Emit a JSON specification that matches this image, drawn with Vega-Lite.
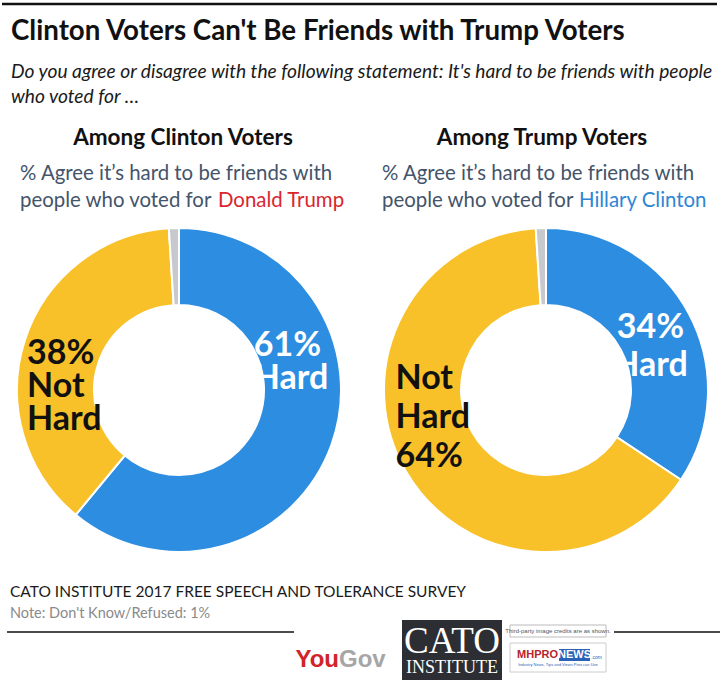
{
  "$schema": "https://vega.github.io/schema/vega-lite/v6.json",
  "padding": 0,
  "background": "white",
  "spacing": 4,
  "config": {
    "view": {"stroke": null},
    "axis": {"disable": true},
    "legend": {"disable": true},
    "text": {"font": "Lato"}
  },
  "vconcat": [
    {
      "width": 720,
      "height": 218,
      "data": {"values": [{}]},
      "layer": [
        {"mark": {"type": "rule", "stroke": "#111111", "strokeWidth": 2.5},
         "encoding": {"x": {"datum": 0, "type": "quantitative", "scale": {"domain": [0, 720]}}, "x2": {"datum": 715}, "y": {"datum": 4, "type": "quantitative", "scale": {"domain": [0, 218], "reverse": true}}}},
        {"mark": {"type": "text", "text": "Clinton Voters Can't Be Friends with Trump Voters", "align": "left", "baseline": "middle", "fontSize": 27.7, "fontWeight": "bold", "fill": "#111111"},
         "encoding": {"x": {"datum": 9, "type": "quantitative", "scale": {"domain": [0, 720]}}, "y": {"datum": 32, "type": "quantitative", "scale": {"domain": [0, 218], "reverse": true}}}},
        {"mark": {"type": "text", "text": "Do you agree or disagree with the following statement: It's hard to be friends with people", "align": "left", "baseline": "middle", "fontSize": 19.2, "fontStyle": "italic", "fill": "#1a1a1a"},
         "encoding": {"x": {"datum": 9, "type": "quantitative", "scale": {"domain": [0, 720]}}, "y": {"datum": 72, "type": "quantitative", "scale": {"domain": [0, 218], "reverse": true}}}},
        {"mark": {"type": "text", "text": "who voted for \u2026", "align": "left", "baseline": "middle", "fontSize": 19.2, "fontStyle": "italic", "fill": "#1a1a1a"},
         "encoding": {"x": {"datum": 9, "type": "quantitative", "scale": {"domain": [0, 720]}}, "y": {"datum": 97, "type": "quantitative", "scale": {"domain": [0, 218], "reverse": true}}}},
        {"mark": {"type": "text", "text": "Among Clinton Voters", "align": "center", "baseline": "middle", "fontSize": 22.5, "fontWeight": "bold", "fill": "#111111"},
         "encoding": {"x": {"datum": 181, "type": "quantitative", "scale": {"domain": [0, 720]}}, "y": {"datum": 138, "type": "quantitative", "scale": {"domain": [0, 218], "reverse": true}}}},
        {"mark": {"type": "text", "text": "% Agree it\u2019s hard to be friends with", "align": "left", "baseline": "middle", "fontSize": 20.4, "fill": "#44546a"},
         "encoding": {"x": {"datum": 18, "type": "quantitative", "scale": {"domain": [0, 720]}}, "y": {"datum": 174, "type": "quantitative", "scale": {"domain": [0, 218], "reverse": true}}}},
        {"mark": {"type": "text", "text": "people who voted for", "align": "left", "baseline": "middle", "fontSize": 20.4, "fill": "#44546a"},
         "encoding": {"x": {"datum": 18, "type": "quantitative", "scale": {"domain": [0, 720]}}, "y": {"datum": 201, "type": "quantitative", "scale": {"domain": [0, 218], "reverse": true}}}},
        {"mark": {"type": "text", "text": "Donald Trump", "align": "left", "baseline": "middle", "fontSize": 20.4, "fill": "#d9262e"},
         "encoding": {"x": {"datum": 216, "type": "quantitative", "scale": {"domain": [0, 720]}}, "y": {"datum": 201, "type": "quantitative", "scale": {"domain": [0, 218], "reverse": true}}}},
        {"mark": {"type": "text", "text": "Among Trump Voters", "align": "center", "baseline": "middle", "fontSize": 22.5, "fontWeight": "bold", "fill": "#111111"},
         "encoding": {"x": {"datum": 540, "type": "quantitative", "scale": {"domain": [0, 720]}}, "y": {"datum": 138, "type": "quantitative", "scale": {"domain": [0, 218], "reverse": true}}}},
        {"mark": {"type": "text", "text": "% Agree it\u2019s hard to be friends with", "align": "left", "baseline": "middle", "fontSize": 20.4, "fill": "#44546a"},
         "encoding": {"x": {"datum": 380, "type": "quantitative", "scale": {"domain": [0, 720]}}, "y": {"datum": 174, "type": "quantitative", "scale": {"domain": [0, 218], "reverse": true}}}},
        {"mark": {"type": "text", "text": "people who voted for", "align": "left", "baseline": "middle", "fontSize": 20.4, "fill": "#44546a"},
         "encoding": {"x": {"datum": 380, "type": "quantitative", "scale": {"domain": [0, 720]}}, "y": {"datum": 201, "type": "quantitative", "scale": {"domain": [0, 218], "reverse": true}}}},
        {"mark": {"type": "text", "text": "Hillary Clinton", "align": "left", "baseline": "middle", "fontSize": 20.4, "fill": "#2e86d6"},
         "encoding": {"x": {"datum": 577, "type": "quantitative", "scale": {"domain": [0, 720]}}, "y": {"datum": 201, "type": "quantitative", "scale": {"domain": [0, 218], "reverse": true}}}}
      ]
    },
    {
      "spacing": 14,
      "hconcat": [
        {
          "width": 354,
          "height": 336,
          "data": {"values": [
            {"voters": "Clinton", "cat": "Hard", "value": 61, "ord": 1, "label": "61%\nHard"},
            {"voters": "Clinton", "cat": "Not Hard", "value": 38, "ord": 2, "label": "38%\nNot\nHard"},
            {"voters": "Clinton", "cat": "Don't Know/Refused", "value": 1, "ord": 3, "label": ""}
          ]},
          "encoding": {
            "theta": {"field": "value", "type": "quantitative", "stack": true},
            "order": {"field": "ord", "type": "quantitative"}
          },
          "layer": [
            {"mark": {"type": "arc", "outerRadius": 162, "innerRadius": 85, "stroke": "white", "strokeWidth": 2},
             "encoding": {"color": {"field": "cat", "type": "nominal", "scale": {"domain": ["Hard", "Not Hard", "Don't Know/Refused"], "range": ["#2d8de0", "#f8c12a", "#c6cace"]}}}},
            {"mark": {"type": "text", "clip": true, "radius": 123, "align": "left", "baseline": "middle", "dx": -41, "dy": -86, "fontSize": 34, "fontWeight": "bold", "fill": "white", "lineBreak": "\n", "lineHeight": 33},
             "encoding": {"text": {"condition": {"test": "datum.cat === 'Hard'", "field": "label"}, "value": ""}}},
            {"mark": {"type": "text", "clip": true, "radius": 123, "align": "left", "baseline": "middle", "dx": -35, "dy": 2, "fontSize": 34, "fontWeight": "bold", "fill": "#111111", "lineBreak": "\n", "lineHeight": 33},
             "encoding": {"text": {"condition": {"test": "datum.cat === 'Not Hard'", "field": "label"}, "value": ""}}}
          ]
        },
        {
          "width": 352,
          "height": 336,
          "data": {"values": [
            {"voters": "Trump", "cat": "Hard", "value": 34, "ord": 1, "label": "34%\nHard"},
            {"voters": "Trump", "cat": "Not Hard", "value": 64, "ord": 2, "label": "Not\nHard\n64%"},
            {"voters": "Trump", "cat": "Don't Know/Refused", "value": 1, "ord": 3, "label": ""}
          ]},
          "encoding": {
            "theta": {"field": "value", "type": "quantitative", "stack": true},
            "order": {"field": "ord", "type": "quantitative"}
          },
          "layer": [
            {"mark": {"type": "arc", "outerRadius": 162, "innerRadius": 85, "stroke": "white", "strokeWidth": 2},
             "encoding": {"color": {"field": "cat", "type": "nominal", "scale": {"domain": ["Hard", "Not Hard", "Don't Know/Refused"], "range": ["#2d8de0", "#f8c12a", "#c6cace"]}}}},
            {"mark": {"type": "text", "clip": true, "radius": 123, "align": "center", "baseline": "middle", "dx": -4, "dy": -4, "fontSize": 34, "fontWeight": "bold", "fill": "white", "lineBreak": "\n", "lineHeight": 38},
             "encoding": {"text": {"condition": {"test": "datum.cat === 'Hard'", "field": "label"}, "value": ""}}},
            {"mark": {"type": "text", "clip": true, "radius": 123, "align": "left", "baseline": "middle", "dx": -44, "dy": -73, "fontSize": 34, "fontWeight": "bold", "fill": "#111111", "lineBreak": "\n", "lineHeight": 39},
             "encoding": {"text": {"condition": {"test": "datum.cat === 'Not Hard'", "field": "label"}, "value": ""}}}
          ]
        }
      ]
    },
    {
      "width": 720,
      "height": 136,
      "data": {"values": [{}]},
      "layer": [
        {"mark": {"type": "text", "text": "CATO INSTITUTE 2017 FREE SPEECH AND TOLERANCE SURVEY", "align": "left", "baseline": "middle", "fontSize": 15.5, "fill": "#1a1a1a"},
         "encoding": {"x": {"datum": 8, "type": "quantitative", "scale": {"domain": [0, 720]}}, "y": {"datum": 30, "type": "quantitative", "scale": {"domain": [0, 136], "reverse": true}}}},
        {"mark": {"type": "text", "text": "Note: Don't Know/Refused: 1%", "align": "left", "baseline": "middle", "fontSize": 14.5, "fill": "#8a8a8a"},
         "encoding": {"x": {"datum": 8, "type": "quantitative", "scale": {"domain": [0, 720]}}, "y": {"datum": 52, "type": "quantitative", "scale": {"domain": [0, 136], "reverse": true}}}},
        {"mark": {"type": "rule", "stroke": "#111111", "strokeWidth": 1.5},
         "encoding": {"x": {"datum": 5, "type": "quantitative", "scale": {"domain": [0, 720]}}, "x2": {"datum": 292}, "y": {"datum": 70, "type": "quantitative", "scale": {"domain": [0, 136], "reverse": true}}}},
        {"mark": {"type": "rule", "stroke": "#111111", "strokeWidth": 1.5},
         "encoding": {"x": {"datum": 612, "type": "quantitative", "scale": {"domain": [0, 720]}}, "x2": {"datum": 720}, "y": {"datum": 70, "type": "quantitative", "scale": {"domain": [0, 136], "reverse": true}}}},
        {"mark": {"type": "text", "text": "You", "align": "right", "baseline": "middle", "fontSize": 24, "fontWeight": "bold", "font": "Liberation Sans", "fill": "#d2232a"},
         "encoding": {"x": {"datum": 337, "type": "quantitative", "scale": {"domain": [0, 720]}}, "y": {"datum": 98, "type": "quantitative", "scale": {"domain": [0, 136], "reverse": true}}}},
        {"mark": {"type": "text", "text": "Gov", "align": "left", "baseline": "middle", "fontSize": 24, "fontWeight": "bold", "font": "Liberation Sans", "fill": "#a6a6a6"},
         "encoding": {"x": {"datum": 337, "type": "quantitative", "scale": {"domain": [0, 720]}}, "y": {"datum": 98, "type": "quantitative", "scale": {"domain": [0, 136], "reverse": true}}}},
        {"mark": {"type": "rect", "fill": "#2c2e33"},
         "encoding": {"x": {"datum": 400, "type": "quantitative", "scale": {"domain": [0, 720]}}, "x2": {"datum": 500}, "y": {"datum": 58, "type": "quantitative", "scale": {"domain": [0, 136], "reverse": true}}, "y2": {"datum": 118}}},
        {"mark": {"type": "text", "text": "CATO", "align": "center", "baseline": "middle", "fontSize": 37, "font": "Liberation Serif", "fill": "white"},
         "encoding": {"x": {"datum": 450, "type": "quantitative", "scale": {"domain": [0, 720]}}, "y": {"datum": 80, "type": "quantitative", "scale": {"domain": [0, 136], "reverse": true}}}},
        {"mark": {"type": "text", "text": "INSTITUTE", "align": "center", "baseline": "middle", "fontSize": 18, "font": "Liberation Serif", "fill": "white"},
         "encoding": {"x": {"datum": 450, "type": "quantitative", "scale": {"domain": [0, 720]}}, "y": {"datum": 106, "type": "quantitative", "scale": {"domain": [0, 136], "reverse": true}}}},
        {"mark": {"type": "rect", "fill": "white", "stroke": "#bbbbbb", "strokeWidth": 1},
         "encoding": {"x": {"datum": 508, "type": "quantitative", "scale": {"domain": [0, 720]}}, "x2": {"datum": 604}, "y": {"datum": 63, "type": "quantitative", "scale": {"domain": [0, 136], "reverse": true}}, "y2": {"datum": 75}}},
        {"mark": {"type": "text", "text": "Third-party image credits are as shown.", "align": "center", "baseline": "middle", "fontSize": 6, "font": "Liberation Sans", "fill": "#555555"},
         "encoding": {"x": {"datum": 556, "type": "quantitative", "scale": {"domain": [0, 720]}}, "y": {"datum": 69, "type": "quantitative", "scale": {"domain": [0, 136], "reverse": true}}}},
        {"mark": {"type": "rect", "fill": "white", "stroke": "#cccccc", "strokeWidth": 1},
         "encoding": {"x": {"datum": 508, "type": "quantitative", "scale": {"domain": [0, 720]}}, "x2": {"datum": 604}, "y": {"datum": 81, "type": "quantitative", "scale": {"domain": [0, 136], "reverse": true}}, "y2": {"datum": 110}}},
        {"mark": {"type": "text", "text": "MHPRO", "align": "right", "baseline": "middle", "fontSize": 11, "fontWeight": "bold", "font": "Liberation Sans", "fill": "#b5232b"},
         "encoding": {"x": {"datum": 556, "type": "quantitative", "scale": {"domain": [0, 720]}}, "y": {"datum": 93, "type": "quantitative", "scale": {"domain": [0, 136], "reverse": true}}}},
        {"mark": {"type": "rect", "fill": "#2a62b8"},
         "encoding": {"x": {"datum": 557, "type": "quantitative", "scale": {"domain": [0, 720]}}, "x2": {"datum": 588}, "y": {"datum": 87, "type": "quantitative", "scale": {"domain": [0, 136], "reverse": true}}, "y2": {"datum": 99}}},
        {"mark": {"type": "text", "text": "NEWS", "align": "center", "baseline": "middle", "fontSize": 11, "fontWeight": "bold", "font": "Liberation Sans", "fill": "white"},
         "encoding": {"x": {"datum": 572.5, "type": "quantitative", "scale": {"domain": [0, 720]}}, "y": {"datum": 93, "type": "quantitative", "scale": {"domain": [0, 136], "reverse": true}}}},
        {"mark": {"type": "text", "text": ".com", "align": "left", "baseline": "middle", "fontSize": 5, "font": "Liberation Sans", "fill": "#2a62b8"},
         "encoding": {"x": {"datum": 589, "type": "quantitative", "scale": {"domain": [0, 720]}}, "y": {"datum": 95, "type": "quantitative", "scale": {"domain": [0, 136], "reverse": true}}}},
        {"mark": {"type": "text", "text": "Industry News, Tips and Views Pros can Use", "align": "center", "baseline": "middle", "fontSize": 4, "font": "Liberation Sans", "fill": "#2a62b8"},
         "encoding": {"x": {"datum": 556, "type": "quantitative", "scale": {"domain": [0, 720]}}, "y": {"datum": 103, "type": "quantitative", "scale": {"domain": [0, 136], "reverse": true}}}}
      ]
    }
  ]
}
